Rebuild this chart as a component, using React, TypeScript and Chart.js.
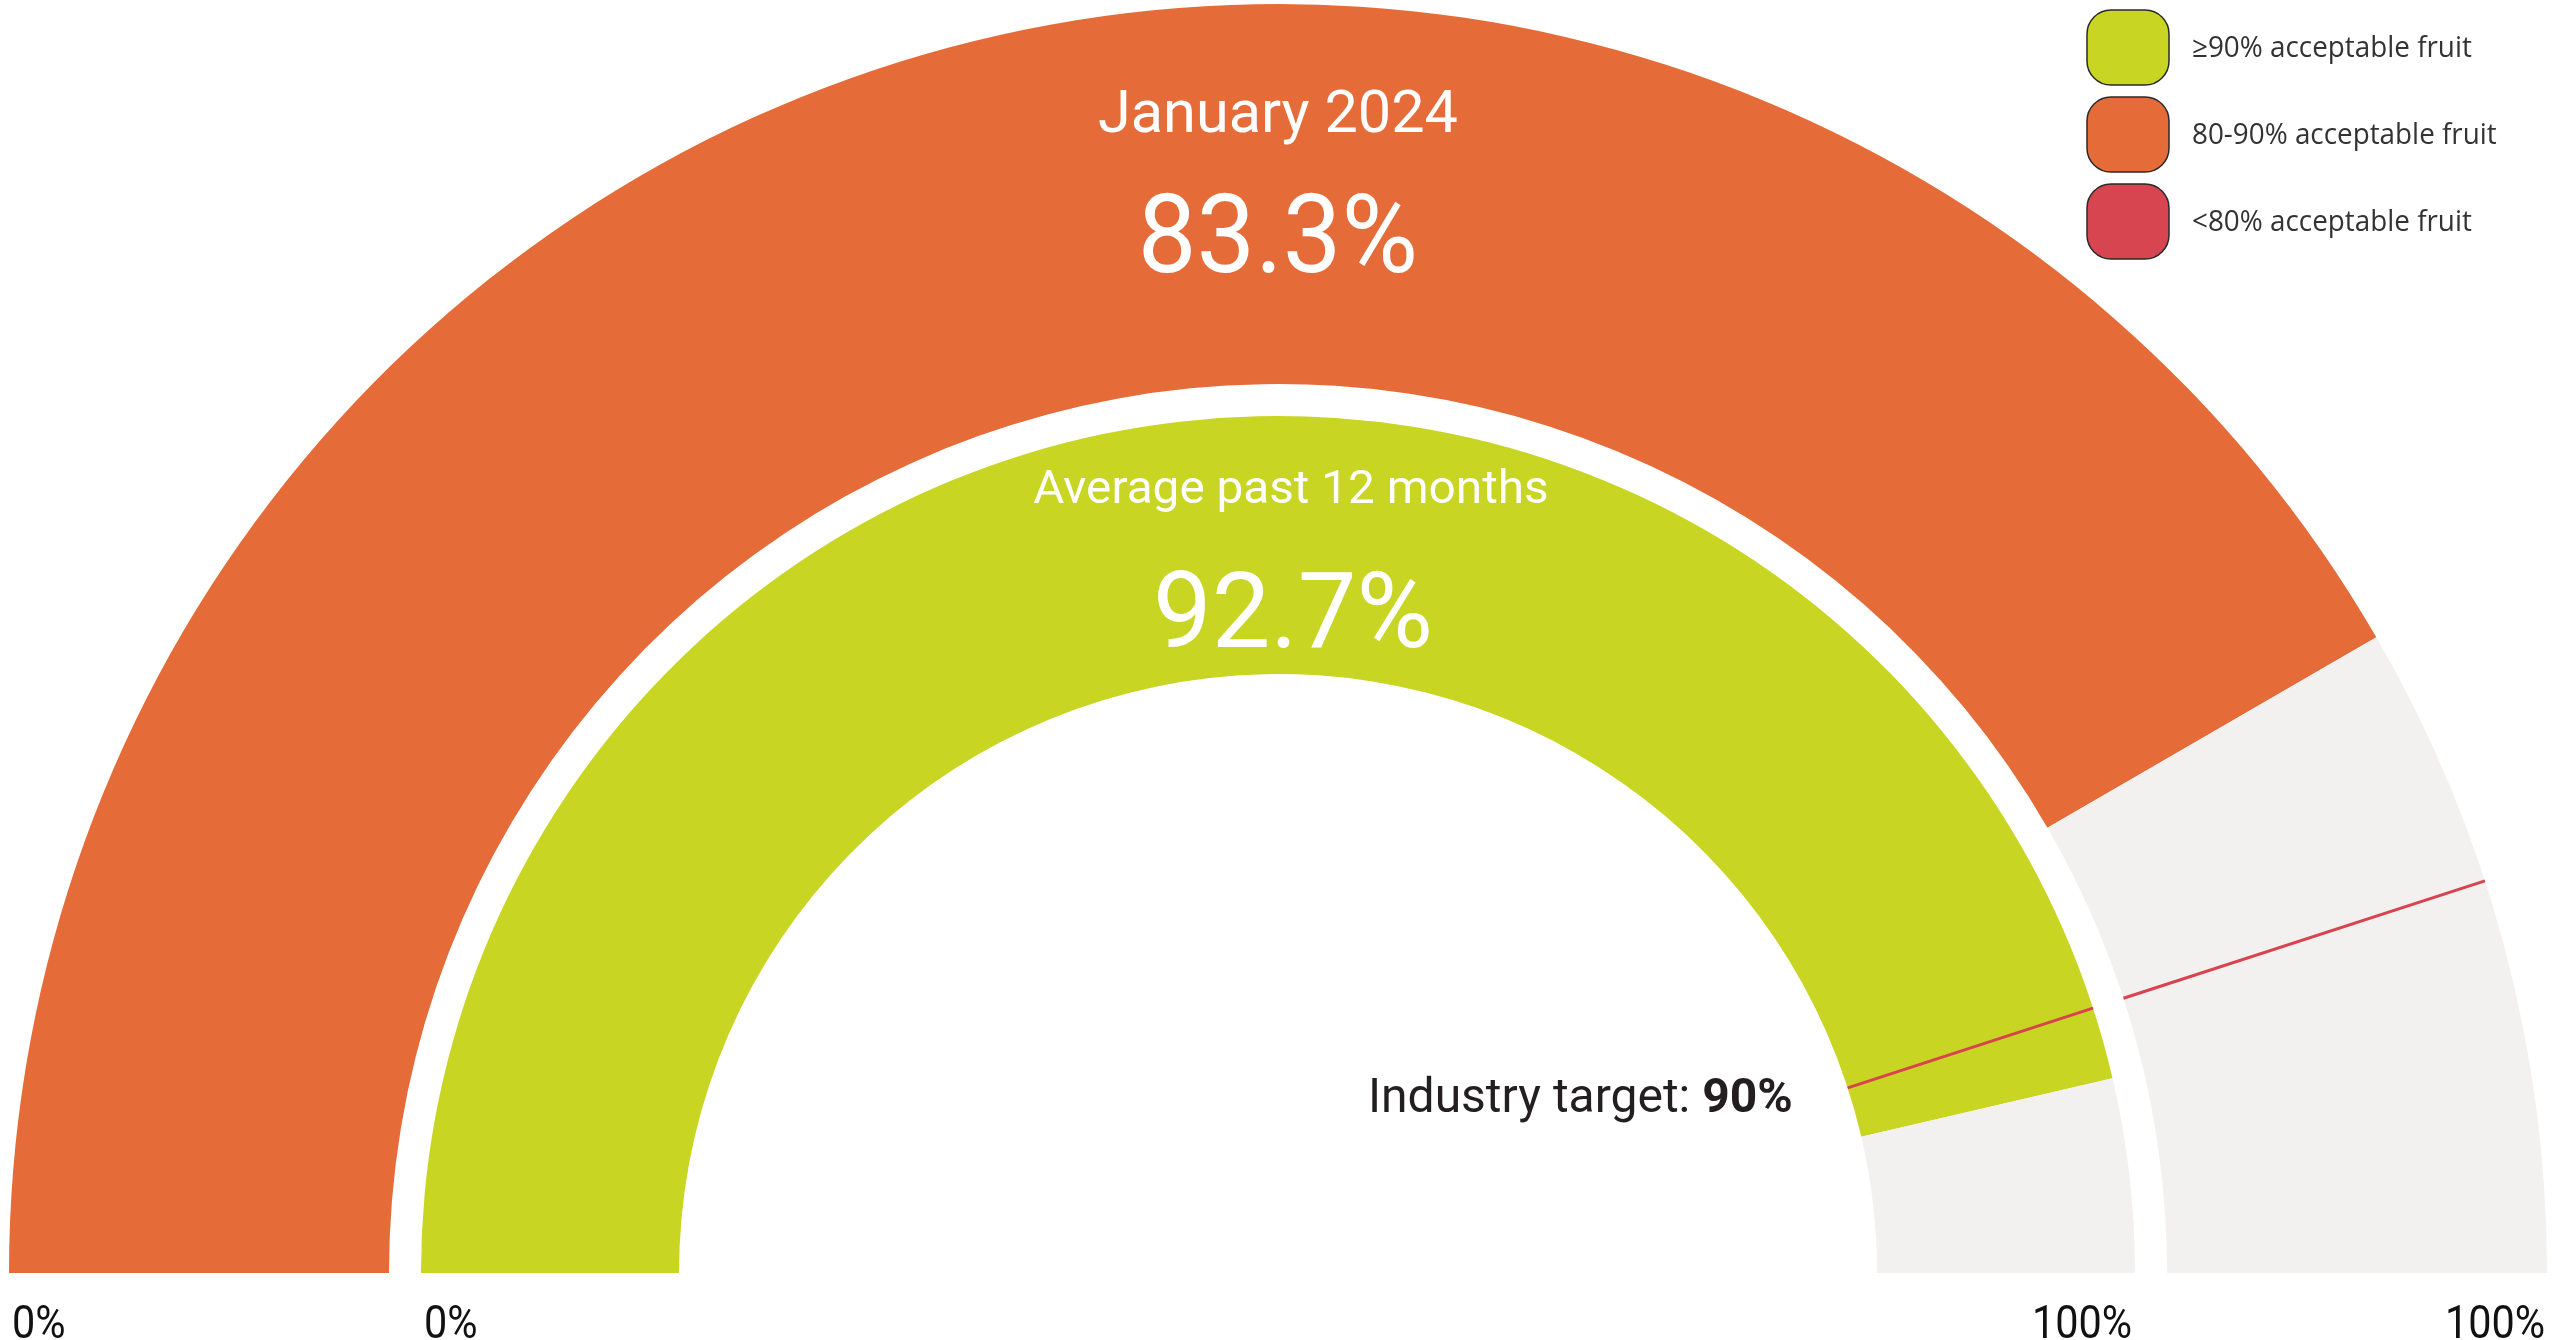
import React, { useEffect, useRef } from 'react';
import { Chart, registerables } from 'chart.js';

Chart.register(...registerables);

// ---- data ----
const ringLabels = ['January 2024', 'Average past 12 months'];
const ringValues = [83.3, 92.7];
const scaleMin = 0;
const scaleMax = 100;
const targetValue = 90;
const targetText = 'Industry target: ';
const tickLabels = ['0%', '100%'];
const legendLabels = ['≥90% acceptable fruit', '80-90% acceptable fruit', '<80% acceptable fruit'];
const legendColors = ['#C8D522', '#E56C39', '#D64550'];
const legendThresholds = [90, 80, 0];

const GREY = '#F2F1EF';
const TARGET_RED = '#D9434F';

function colorFor(v: number): string {
  for (let i = 0; i < legendThresholds.length; i++) {
    if (v >= legendThresholds[i]) return legendColors[i];
  }
  return legendColors[legendColors.length - 1];
}

function drawText(
  ctx: CanvasRenderingContext2D,
  text: string,
  x: number,
  y: number,
  font: string,
  color: string,
  align: 'left' | 'center' | 'right',
  sx = 1,
  baseline: CanvasTextBaseline = 'alphabetic'
): number {
  ctx.save();
  ctx.font = font;
  ctx.fillStyle = color;
  ctx.textBaseline = baseline;
  ctx.textAlign = 'left';
  const w = ctx.measureText(text).width * sx;
  const left = align === 'center' ? x - w / 2 : align === 'right' ? x - w : x;
  ctx.translate(left, y);
  ctx.scale(sx, 1);
  ctx.fillText(text, 0, 0);
  ctx.restore();
  return w;
}

const FONT = 'Roboto, "DejaVu Sans", sans-serif';

const gaugePlugin = {
  id: 'gaugeDecor',
  afterDatasetsDraw(chart: any) {
    const ctx: CanvasRenderingContext2D = chart.ctx;
    // target lines on the two value rings
    [0, 2].forEach((di) => {
      const meta = chart.getDatasetMeta(di);
      const arcs = meta.data;
      if (!arcs.length) return;
      const first = arcs[0];
      const last = arcs[arcs.length - 1];
      const span = last.endAngle - first.startAngle;
      const a = first.startAngle + ((targetValue - scaleMin) / (scaleMax - scaleMin)) * span;
      ctx.save();
      ctx.strokeStyle = TARGET_RED;
      ctx.lineWidth = 3;
      ctx.beginPath();
      ctx.moveTo(first.x + Math.cos(a) * first.innerRadius, first.y + Math.sin(a) * first.innerRadius);
      ctx.lineTo(first.x + Math.cos(a) * first.outerRadius, first.y + Math.sin(a) * first.outerRadius);
      ctx.stroke();
      ctx.restore();
    });
  },
  afterDraw(chart: any) {
    const ctx: CanvasRenderingContext2D = chart.ctx;
    const outer = chart.getDatasetMeta(0).data[0];
    const inner = chart.getDatasetMeta(2).data[0];
    const cx = outer.x;
    const cy = outer.y;

    // ring titles & values
    drawText(ctx, ringLabels[0], cx, cy - 1141, `400 60px ${FONT}`, '#FFFFFF', 'center', 0.99);
    drawText(ctx, ringValues[0].toFixed(1) + '%', cx, cy - 1001, `400 110px ${FONT}`, '#FFFFFF', 'center', 0.95);
    drawText(ctx, ringLabels[1], cx + 13, cy - 770, `400 47px ${FONT}`, '#FFFFFF', 'center', 1.015);
    drawText(ctx, ringValues[1].toFixed(1) + '%', cx + 15, cy - 626, `400 106px ${FONT}`, '#FFFFFF', 'center', 0.985);

    // industry target label
    const tx = 1368;
    const ty = cy - 161;
    const w1 = drawText(ctx, targetText, tx, ty, `400 48px ${FONT}`, '#231F20', 'left', 1.0);
    drawText(ctx, targetValue + '%', tx + w1, ty, `700 48px ${FONT}`, '#231F20', 'left', 1.0);

    // tick labels
    const by = cy + 65;
    drawText(ctx, tickLabels[0], cx - outer.outerRadius + 3, by, `400 46px ${FONT}`, '#111111', 'left', 0.9);
    drawText(ctx, tickLabels[0], cx - inner.outerRadius + 3, by, `400 46px ${FONT}`, '#111111', 'left', 0.9);
    drawText(ctx, tickLabels[1], cx + inner.outerRadius - 3, by, `400 46px ${FONT}`, '#111111', 'right', 0.9);
    drawText(ctx, tickLabels[1], cx + outer.outerRadius - 2, by, `400 46px ${FONT}`, '#111111', 'right', 0.9);

    // legend
    const lx = 2087;
    const ly = 10;
    const bw = 82;
    const bh = 75;
    const step = 87;
    legendLabels.forEach((lab, i) => {
      const y = ly + i * step;
      ctx.save();
      ctx.beginPath();
      (ctx as any).roundRect(lx, y, bw, bh, 24);
      ctx.fillStyle = legendColors[i];
      ctx.fill();
      ctx.lineWidth = 1.5;
      ctx.strokeStyle = '#2a2a2a';
      ctx.stroke();
      ctx.restore();
      drawText(ctx, lab, lx + 105, y + bh / 2 + 1, `400 29px "Open Sans", sans-serif`, '#333333', 'left', 0.96, 'middle');
    });
  },
};

export default function App() {
  const ref = useRef<HTMLCanvasElement | null>(null);
  useEffect(() => {
    if (!ref.current) return;
    const outerR = 1269;
    const ringOuterW = 380;
    const gapW = 32;
    const ringInnerW = 258;
    const cutoutPct = ((outerR - ringOuterW - gapW - ringInnerW) / outerR) * 100;
    const chart = new Chart(ref.current, {
      type: 'doughnut',
      data: {
        labels: ['value', 'rest'],
        datasets: [
          {
            data: [ringValues[0] - scaleMin, scaleMax - ringValues[0]],
            backgroundColor: [colorFor(ringValues[0]), GREY],
            borderWidth: 0,
            weight: ringOuterW,
          } as any,
          {
            data: [scaleMax - scaleMin],
            backgroundColor: ['rgba(0,0,0,0)'],
            borderWidth: 0,
            weight: gapW,
          } as any,
          {
            data: [ringValues[1] - scaleMin, scaleMax - ringValues[1]],
            backgroundColor: [colorFor(ringValues[1]), GREY],
            borderWidth: 0,
            weight: ringInnerW,
          } as any,
        ],
      },
      options: {
        responsive: false,
        animation: false,
        rotation: -90,
        circumference: 180,
        cutout: `${cutoutPct}%`,
        layout: { padding: { left: 9, right: 13, top: 4, bottom: 67 } },
        plugins: {
          legend: { display: false },
          tooltip: { enabled: false },
        },
      } as any,
      plugins: [gaugePlugin],
    });
    return () => chart.destroy();
  }, []);

  return (
    <div style={{ position: 'fixed', left: 0, top: 0, width: 2560, height: 1340, background: '#FFFFFF' }}>
      <canvas ref={ref} width={2560} height={1340} style={{ display: 'block', width: 2560, height: 1340 }} />
    </div>
  );
}
